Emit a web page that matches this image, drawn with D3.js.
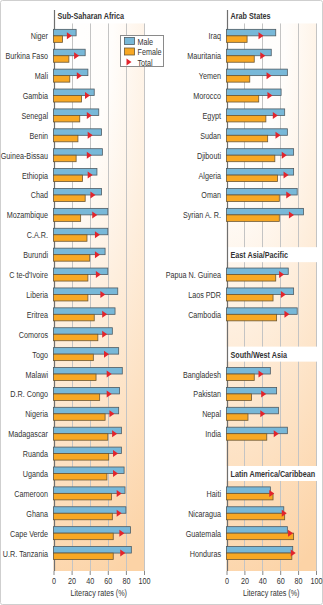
<!DOCTYPE html>
<html>
<head>
<meta charset="utf-8">
<script src="https://cdn.jsdelivr.net/npm/d3@7"></script>
<style>
  body { margin: 0; background: #fff; }
  text { font-family: "Liberation Sans", Arial, sans-serif; fill: #333; }
</style>
</head>
<body>
<div id="chart"></div>
<script>
var svgWidth = 323;
var svgHeight = 605;

// Sub-Saharan Africa (left panel)
var ssaCountries = ["Niger", "Burkina Faso", "Mali", "Gambia", "Senegal", "Benin", "Guinea-Bissau",
  "Ethiopia", "Chad", "Mozambique", "C.A.R.", "Burundi", "C te-d'Ivoire", "Liberia", "Eritrea",
  "Comoros", "Togo", "Malawi", "D.R. Congo", "Nigeria", "Madagascar", "Ruanda", "Uganda",
  "Cameroon", "Ghana", "Cape Verde", "U.R. Tanzania"];
var ssaMale = [25, 35, 38, 45, 50, 53, 54, 48, 53, 60, 60, 57, 60, 71, 68, 65, 72, 76, 73, 72, 75, 75, 78, 79, 80, 85, 86];
var ssaFemale = [10, 17, 18, 31, 29, 27, 25, 32, 35, 30, 37, 40, 38, 38, 45, 49, 44, 47, 51, 57, 60, 61, 59, 64, 65, 66, 66];
var ssaTotal = [17, 25, 28, 37, 39, 40, 39, 40, 43, 45, 48, 48, 49, 54, 56, 56, 58, 61, 61, 64, 67, 68, 68, 72, 72, 75, 76];

// Arab States
var arabCountries = ["Iraq", "Mauritania", "Yemen", "Morocco", "Egypt", "Sudan", "Djibouti", "Algeria", "Oman", "Syrian A. R."];
var arabMale = [55, 50, 68, 61, 65, 68, 75, 75, 79, 86];
var arabFemale = [23, 31, 26, 36, 44, 46, 54, 57, 59, 59];
var arabTotal = [38, 40, 47, 48, 54, 57, 64, 66, 69, 72];

// East Asia/Pacific
var eapCountries = ["Papua N. Guinea", "Laos PDR", "Cambodia"];
var eapMale = [69, 75, 79];
var eapFemale = [55, 52, 56];
var eapTotal = [61, 63, 67];

// South/West Asia
var swaCountries = ["Bangladesh", "Pakistan", "Nepal", "India"];
var swaMale = [49, 56, 58, 68];
var swaFemale = [31, 28, 24, 45];
var swaTotal = [38, 41, 40, 55];

// Latin America/Caribbean
var lacCountries = ["Haiti", "Nicaragua", "Guatemala", "Honduras"];
var lacMale = [49, 64, 68, 74];
var lacFemale = [52, 65, 75, 73];
var lacTotal = [50, 64, 71, 74];

var xTicks = [0, 20, 40, 60, 80, 100];
var legendLabels = ["Male", "Female", "Total"];

var maleColor = "#78b8d8";
var femaleColor = "#f8a824";
var totalColor = "#e2242c";
var peach = "#fcd3a6";

// the original uses a narrow font, so squeeze the text horizontally
var squeeze = 0.76;
var fontSize = 9.5;

var svg = d3.select("#chart")
  .append("svg")
  .attr("width", svgWidth)
  .attr("height", svgHeight);

// outer frame
svg.append("rect")
  .attr("x", 0.5)
  .attr("y", 0.5)
  .attr("width", svgWidth - 1)
  .attr("height", svgHeight - 1)
  .attr("rx", 2)
  .attr("fill", "#fff")
  .attr("stroke", "#cfcfcf");

// 28 row slots shared by both panels
var yScale = d3.scaleBand()
  .domain(d3.range(28))
  .range([6, 563]);
var plotTop = 8;
var plotBottom = 571;

function center(slot) {
  return yScale(slot) + yScale.bandwidth() / 2;
}

function placeText(sel, xf, yf) {
  return sel.attr("transform", (d, i) => `translate(${xf(d, i)}, ${yf(d, i)}) scale(${squeeze}, 1)`)
    .attr("font-size", fontSize);
}

// build the row lists for each panel
function buildRows(groups) {
  var rows = [];
  var headers = [];
  var slot = 0;
  groups.forEach(function(g, gi) {
    if (gi > 0) slot++;
    headers.push({ name: g.name, slot: slot });
    slot++;
    g.countries.forEach(function(c, i) {
      rows.push({ country: c, male: g.male[i], female: g.female[i], total: g.total[i], slot: slot });
      slot++;
    });
  });
  return { rows: rows, headers: headers };
}

var leftPanel = buildRows([
  { name: "Sub-Saharan Africa", countries: ssaCountries, male: ssaMale, female: ssaFemale, total: ssaTotal }
]);
var rightPanel = buildRows([
  { name: "Arab States", countries: arabCountries, male: arabMale, female: arabFemale, total: arabTotal },
  { name: "East Asia/Pacific", countries: eapCountries, male: eapMale, female: eapFemale, total: eapTotal },
  { name: "South/West Asia", countries: swaCountries, male: swaMale, female: swaFemale, total: swaTotal },
  { name: "Latin America/Caribbean", countries: lacCountries, male: lacMale, female: lacFemale, total: lacTotal }
]);

var defs = svg.append("defs");

function drawPanel(panel, x, id) {
  var x0 = x(0);
  var x1 = x(100);

  // background gradient, white at top left going to peach
  var grad = defs.append("radialGradient")
    .attr("id", id)
    .attr("gradientUnits", "userSpaceOnUse")
    .attr("cx", 0)
    .attr("cy", 0)
    .attr("r", 1)
    .attr("gradientTransform", `translate(${x0}, ${plotTop}) scale(200, 600)`);
  grad.append("stop").attr("offset", 0).attr("stop-color", "#fff");
  grad.append("stop").attr("offset", 0.3).attr("stop-color", "#fffdfb");
  grad.append("stop").attr("offset", 1).attr("stop-color", peach);

  var g = svg.append("g");

  g.append("rect")
    .attr("x", x0)
    .attr("y", plotTop)
    .attr("width", x1 - x0)
    .attr("height", plotBottom - plotTop)
    .attr("fill", `url(#${id})`);

  // vertical grid lines
  g.selectAll(".grid")
    .data(xTicks.slice(1))
    .enter()
    .append("line")
    .attr("x1", d => Math.round(x(d)) + 0.5)
    .attr("x2", d => Math.round(x(d)) + 0.5)
    .attr("y1", plotTop)
    .attr("y2", plotBottom)
    .attr("stroke", "#c4c4c4")
    .attr("stroke-width", 1);

  // white header bands with region names
  g.selectAll(".band")
    .data(panel.headers)
    .enter()
    .append("rect")
    .attr("x", x0)
    .attr("y", d => d.slot === 0 ? plotTop : center(d.slot) - 7.5)
    .attr("width", x1 - x0 + 1)
    .attr("height", d => d.slot === 0 ? center(0) + 7.5 - plotTop : 15)
    .attr("fill", "#fff");

  g.selectAll(".header")
    .data(panel.headers)
    .enter()
    .append("text")
    .call(placeText, () => x0 + 4, d => center(d.slot) + 3.5)
    .attr("font-weight", "bold")
    .attr("fill", "#222")
    .text(d => d.name);

  // left axis line
  g.append("line")
    .attr("x1", Math.round(x0) + 0.5)
    .attr("x2", Math.round(x0) + 0.5)
    .attr("y1", plotTop + 2)
    .attr("y2", plotBottom)
    .attr("stroke", "#6f6f6f")
    .attr("stroke-width", 1.2);

  // country labels
  g.selectAll(".label")
    .data(panel.rows)
    .enter()
    .append("text")
    .call(placeText, () => x0 - 5.5, d => center(d.slot) + 3.5)
    .attr("text-anchor", "end")
    .text(d => d.country);

  // male bars
  g.selectAll(".male")
    .data(panel.rows)
    .enter()
    .append("rect")
    .attr("x", x0)
    .attr("y", d => center(d.slot) - 6.5)
    .attr("width", d => x(d.male) - x0)
    .attr("height", 6.5)
    .attr("fill", maleColor)
    .attr("stroke", "#4e5b63")
    .attr("stroke-width", 0.8);

  // female bars
  g.selectAll(".female")
    .data(panel.rows)
    .enter()
    .append("rect")
    .attr("x", x0)
    .attr("y", d => center(d.slot))
    .attr("width", d => x(d.female) - x0)
    .attr("height", 6.5)
    .attr("fill", femaleColor)
    .attr("stroke", "#6b5836")
    .attr("stroke-width", 0.8);

  // total markers
  g.selectAll(".total")
    .data(panel.rows)
    .enter()
    .append("path")
    .attr("d", "M-2,-3.5L3,0L-2,3.5Z")
    .attr("transform", d => `translate(${x(d.total)}, ${center(d.slot)})`)
    .attr("fill", totalColor);

  // bottom axis
  var axis = g.append("g")
    .attr("transform", `translate(0, ${plotBottom})`)
    .call(d3.axisBottom(x).tickValues(xTicks).tickSize(4).tickPadding(2));
  axis.select(".domain").remove();
  axis.selectAll("line").attr("stroke", "#888");
  axis.selectAll("text")
    .attr("font-size", fontSize)
    .attr("fill", "#333")
    .attr("transform", `scale(${squeeze}, 1)`)
    .style("font-family", "\"Liberation Sans\", Arial, sans-serif");

  g.append("text")
    .call(placeText, () => (x0 + x1) / 2, () => 595.5)
    .attr("text-anchor", "middle")
    .text("Literacy rates (%)");
}

var xLeft = d3.scaleLinear().domain([0, 100]).range([53.5, 144]);
var xRight = d3.scaleLinear().domain([0, 100]).range([226.5, 316]);

drawPanel(leftPanel, xLeft, "bgLeft");
drawPanel(rightPanel, xRight, "bgRight");

// legend
var legend = svg.append("g")
  .attr("transform", "translate(120.5, 35.5)");

legend.append("rect")
  .attr("width", 43)
  .attr("height", 31)
  .attr("fill", "#fff")
  .attr("stroke", "#8a8a8a");

var legendItems = legend.selectAll(".item")
  .data(legendLabels)
  .enter()
  .append("g")
  .attr("transform", (d, i) => `translate(0, ${5.5 + i * 10.5})`);

legendItems.filter((d, i) => i < 2)
  .append("rect")
  .attr("x", 4)
  .attr("y", -3.5)
  .attr("width", 10)
  .attr("height", 7)
  .attr("fill", (d, i) => i === 0 ? maleColor : femaleColor)
  .attr("stroke", (d, i) => i === 0 ? "#4e5b63" : "#6b5836")
  .attr("stroke-width", 0.8);

legendItems.filter((d, i) => i === 2)
  .append("path")
  .attr("d", "M-2,-3.5L3,0L-2,3.5Z")
  .attr("transform", "translate(8, 0)")
  .attr("fill", totalColor);

legendItems.append("text")
  .call(placeText, () => 17, () => 3.5)
  .text(d => d);
</script>
</body>
</html>
